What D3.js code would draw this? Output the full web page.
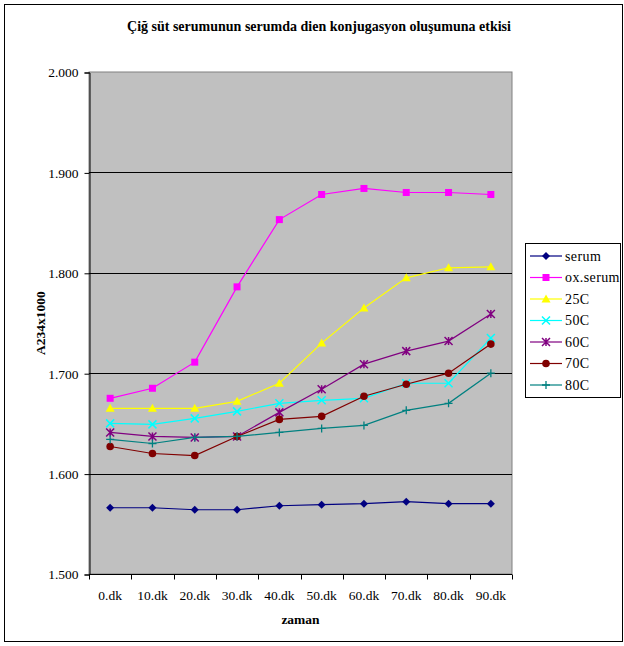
<!DOCTYPE html>
<html>
<head>
<meta charset="utf-8">
<script src="https://cdn.jsdelivr.net/npm/d3@7"></script>
<style>
  html, body { margin: 0; padding: 0; background: #fff; }
  svg { display: block; }
  svg text { font-family: "Liberation Serif", "Times New Roman", serif !important; }
</style>
</head>
<body>
<svg id="chart" width="624" height="646"></svg>
<script>
// Time points (x axis categories)
const categories = ["0.dk", "10.dk", "20.dk", "30.dk", "40.dk", "50.dk", "60.dk", "70.dk", "80.dk", "90.dk"];

// A234 x 1000 readings per sample
const serum   = [1.566, 1.566, 1.564, 1.564, 1.568, 1.569, 1.570, 1.572, 1.570, 1.570];
const oxSerum = [1.675, 1.685, 1.711, 1.786, 1.853, 1.878, 1.884, 1.880, 1.880, 1.878];
const c25     = [1.665, 1.665, 1.665, 1.672, 1.690, 1.730, 1.765, 1.795, 1.805, 1.806];
const c50     = [1.650, 1.649, 1.655, 1.662, 1.670, 1.673, 1.675, 1.690, 1.690, 1.735];
const c60     = [1.641, 1.637, 1.636, 1.637, 1.661, 1.684, 1.709, 1.722, 1.732, 1.759];
const c70     = [1.627, 1.620, 1.618, 1.637, 1.654, 1.657, 1.677, 1.689, 1.700, 1.729];
const c80     = [1.634, 1.630, 1.636, 1.637, 1.641, 1.645, 1.648, 1.663, 1.670, 1.700];

const yTicks = [1.5, 1.6, 1.7, 1.8, 1.9, 2.0];

const seriesNames  = ["serum", "ox.serum", "25C", "50C", "60C", "70C", "80C"];
const seriesValues = [serum, oxSerum, c25, c50, c60, c70, c80];
const seriesColors = ["#000080", "#ff00ff", "#ffff00", "#00ffff", "#800080", "#800000", "#008080"];
const seriesMarkers = ["diamond", "square", "triangle", "x", "star", "circle", "plus"];

const FONT = "Liberation Serif, Times New Roman, serif";
const svg = d3.select("#chart").attr("font-family", FONT);

// Outer frame
svg.append("rect")
  .attr("x", 4.5).attr("y", 4.5)
  .attr("width", 618).attr("height", 637)
  .attr("fill", "#fff").attr("stroke", "#000").attr("stroke-width", 1);

const plot = { left: 89, right: 512, top: 72, bottom: 574 };

const x = d3.scaleBand().domain(categories).range([plot.left, plot.right]);
const y = d3.scaleLinear().domain([1.5, 2.0]).range([plot.bottom, plot.top]);

// Plot background
svg.append("rect")
  .attr("x", plot.left).attr("y", plot.top)
  .attr("width", plot.right - plot.left).attr("height", plot.bottom - plot.top)
  .attr("fill", "#c0c0c0")
  .attr("stroke", "#808080").attr("stroke-width", 1);

// Horizontal gridlines
svg.append("g")
  .selectAll("line")
  .data(yTicks.filter(t => t > 1.5 && t < 2.0))
  .join("line")
  .attr("x1", plot.left).attr("x2", plot.right)
  .attr("y1", d => Math.round(y(d)) + 0.5).attr("y2", d => Math.round(y(d)) + 0.5)
  .attr("stroke", "#000").attr("stroke-width", 1);

// Y axis
const yAxis = d3.axisLeft(y)
  .tickValues(yTicks)
  .tickFormat(d3.format(".3f"))
  .tickSize(5)
  .tickPadding(6);
const gy = svg.append("g")
  .attr("transform", `translate(${plot.left + 0.5},0.5)`)
  .call(yAxis)
  .attr("font-family", FONT)
  .attr("font-size", 13.5);
gy.select(".domain").attr("stroke", "#000");
gy.selectAll(".tick line").attr("stroke", "#000");
gy.selectAll("text").attr("fill", "#000");

// X axis: ticks sit on category boundaries, labels in band centres
const gx = svg.append("g").attr("transform", `translate(0,${plot.bottom + 0.5})`);
gx.append("line")
  .attr("x1", plot.left).attr("x2", plot.right)
  .attr("y1", 0).attr("y2", 0)
  .attr("stroke", "#000");
const boundaries = categories.map(c => x(c)).concat([plot.right]);
gx.selectAll("line.tick")
  .data(boundaries)
  .join("line")
  .attr("class", "tick")
  .attr("x1", d => Math.round(d) + 0.5).attr("x2", d => Math.round(d) + 0.5)
  .attr("y1", 0).attr("y2", 5)
  .attr("stroke", "#000");
gx.selectAll("text")
  .data(categories)
  .join("text")
  .attr("x", d => x(d) + x.bandwidth() / 2)
  .attr("y", 25)
  .attr("text-anchor", "middle")
  .attr("font-size", 13.5)
  .attr("fill", "#000")
  .text(d => d);

// Titles
svg.append("text")
  .attr("x", 319).attr("y", 31)
  .attr("text-anchor", "middle")
  .attr("font-size", 14).attr("font-weight", "bold")
  .text("Çiğ süt serumunun serumda dien konjugasyon oluşumuna etkisi");

svg.append("text")
  .attr("x", (plot.left + plot.right) / 2).attr("y", 624)
  .attr("text-anchor", "middle")
  .attr("font-size", 13.5).attr("font-weight", "bold")
  .text("zaman");

svg.append("text")
  .attr("transform", `translate(45,${(plot.top + plot.bottom) / 2}) rotate(-90)`)
  .attr("text-anchor", "middle")
  .attr("font-size", 13.5).attr("font-weight", "bold")
  .text("A234x1000");

// Marker shapes
function drawMarker(g, type, color, cx, cy) {
  const s = 4;
  switch (type) {
    case "diamond":
      g.append("path")
        .attr("d", `M${cx},${cy - s}L${cx + s},${cy}L${cx},${cy + s}L${cx - s},${cy}Z`)
        .attr("fill", color);
      break;
    case "square":
      g.append("rect")
        .attr("x", cx - 3.5).attr("y", cy - 3.5).attr("width", 7).attr("height", 7)
        .attr("fill", color);
      break;
    case "triangle":
      g.append("path")
        .attr("d", `M${cx},${cy - 4.5}L${cx + 4.5},${cy + 3.5}L${cx - 4.5},${cy + 3.5}Z`)
        .attr("fill", color);
      break;
    case "x":
      g.append("path")
        .attr("d", `M${cx - s},${cy - s}L${cx + s},${cy + s}M${cx - s},${cy + s}L${cx + s},${cy - s}`)
        .attr("stroke", color).attr("stroke-width", 1.5).attr("fill", "none");
      break;
    case "star":
      g.append("path")
        .attr("d", `M${cx - s},${cy - s}L${cx + s},${cy + s}M${cx - s},${cy + s}L${cx + s},${cy - s}M${cx},${cy - s}L${cx},${cy + s}`)
        .attr("stroke", color).attr("stroke-width", 1.5).attr("fill", "none");
      break;
    case "circle":
      g.append("circle")
        .attr("cx", cx).attr("cy", cy).attr("r", 3.8)
        .attr("fill", color);
      break;
    case "plus":
      g.append("path")
        .attr("d", `M${cx - s},${cy}L${cx + s},${cy}M${cx},${cy - s}L${cx},${cy + s}`)
        .attr("stroke", color).attr("stroke-width", 1.3).attr("fill", "none");
      break;
  }
}

// Series lines and markers
const line = d3.line()
  .x((d, i) => x(categories[i]) + x.bandwidth() / 2)
  .y(d => y(d));

seriesValues.forEach((vals, k) => {
  const g = svg.append("g");
  g.append("path")
    .datum(vals)
    .attr("d", line)
    .attr("fill", "none")
    .attr("stroke", seriesColors[k])
    .attr("stroke-width", 1.2);
  vals.forEach((v, i) => {
    drawMarker(g, seriesMarkers[k], seriesColors[k], x(categories[i]) + x.bandwidth() / 2, y(v));
  });
});

// Legend
const legend = svg.append("g");
legend.append("rect")
  .attr("x", 525.5).attr("y", 243.5)
  .attr("width", 95).attr("height", 154)
  .attr("fill", "#fff").attr("stroke", "#000");
seriesNames.forEach((name, k) => {
  const ly = 256 + k * 21.5;
  legend.append("line")
    .attr("x1", 530).attr("x2", 562)
    .attr("y1", ly).attr("y2", ly)
    .attr("stroke", seriesColors[k]).attr("stroke-width", 1.2);
  drawMarker(legend, seriesMarkers[k], seriesColors[k], 546, ly);
  legend.append("text")
    .attr("x", 565).attr("y", ly + 4.5)
    .attr("font-size", 14)
    .attr("letter-spacing", 0.4)
    .attr("fill", "#000")
    .text(name);
});
</script>
</body>
</html>
